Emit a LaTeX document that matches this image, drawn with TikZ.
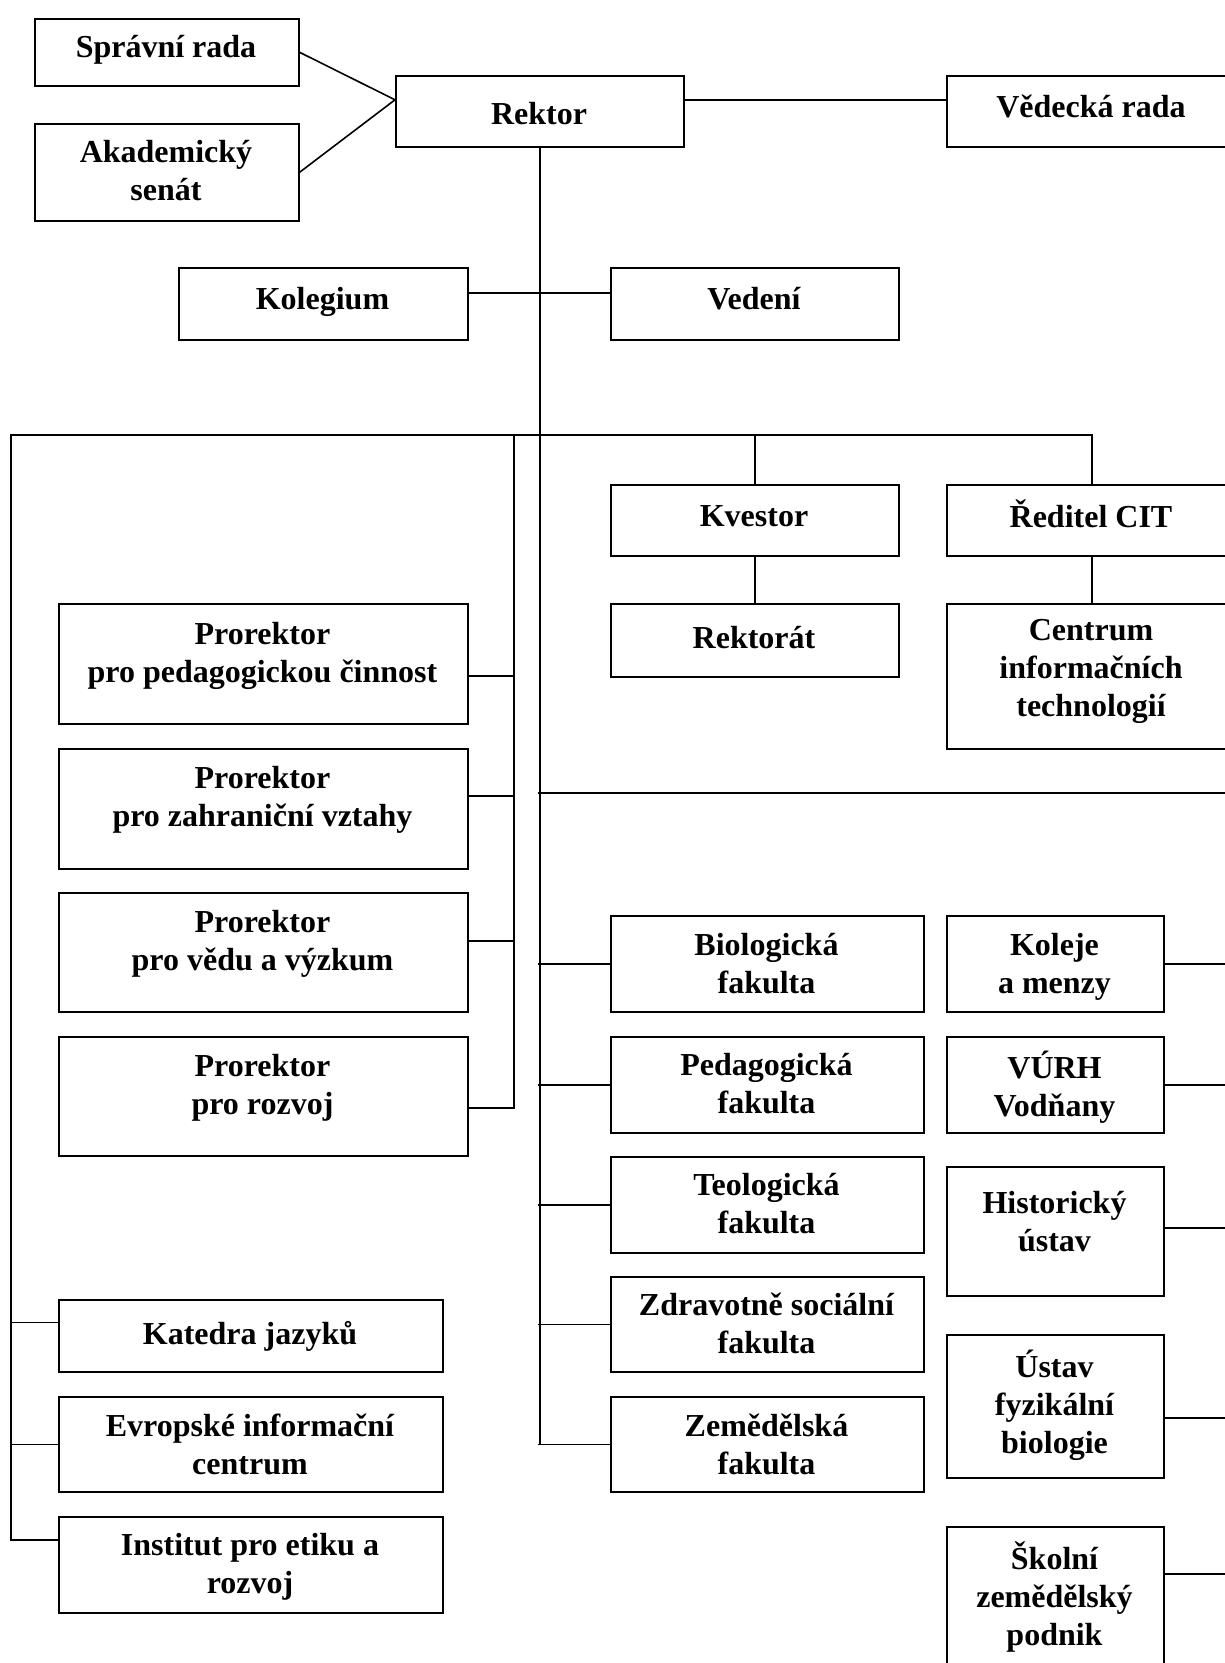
\documentclass[tikz,border=0pt]{standalone}
\usepackage{fontspec}
\setmainfont{Liberation Serif}
\tikzset{
  orgline/.style={line width=1.6pt, line cap=rect},
  orgbox/.style={draw, line width=1.6pt, rectangle, inner sep=0pt, anchor=north west},
  orglbl/.style={font=\bfseries\fontsize{32}{38}\selectfont, align=center, inner sep=0pt,
    yshift=-4pt, execute at begin node=\strut, execute at end node=\strut},
}
% name, x1, y1, x2, y2, text centre y, text
\newcommand\obox[7]{%
  \node[orgbox, minimum width={(#4-#2)*1pt}, minimum height={(#5-#3)*1pt}] (#1) at (#2,#3) {};
  \node[orglbl] (#1-t) at ({(#2+#4)/2},#6) {#7};
}
\begin{document}
\begin{tikzpicture}[x=1pt,y=-1pt]
\clip (0,0) rectangle (1225,1663);
\fill[white] (0,0) rectangle (1225,1663);

% boxes
\obox{spr}{34}{18}{298}{85}{46}{Správní rada}
\obox{aka}{34}{123}{298}{220}{172}{Akademický\\senát}
\obox{rek}{395}{75}{683}{146}{113}{Rektor}
\obox{ved}{946}{75}{1236}{146}{106}{Vědecká rada}
\obox{kol}{178}{267}{467}{339}{298}{Kolegium}
\obox{vedeni}{610}{267}{898}{339}{298}{Vedení}
\obox{kve}{610}{484}{898}{555}{515}{Kvestor}
\obox{red}{946}{484}{1236}{555}{515}{Ředitel CIT}
\obox{rkt}{610}{603}{898}{676}{637}{Rektorát}
\obox{cit}{946}{603}{1236}{748}{670}{Centrum\\informačních\\technologií}
\obox{p1}{58}{603}{467}{723}{654}{Prorektor\\pro pedagogickou činnost}
\obox{p2}{58}{748}{467}{868}{798}{Prorektor\\pro zahraniční vztahy}
\obox{p3}{58}{892}{467}{1011}{942}{Prorektor\\pro vědu a výzkum}
\obox{p4}{58}{1036}{467}{1155}{1086}{Prorektor\\pro rozvoj}
\obox{f1}{610}{915}{923}{1011}{965}{Biologická\\fakulta}
\obox{f2}{610}{1036}{923}{1132}{1085}{Pedagogická\\fakulta}
\obox{f3}{610}{1156}{923}{1252}{1205}{Teologická\\fakulta}
\obox{f4}{610}{1276}{923}{1371}{1325}{Zdravotně sociální\\fakulta}
\obox{f5}{610}{1396}{923}{1491}{1446}{Zemědělská\\fakulta}
\obox{r1}{946}{915}{1163}{1011}{965}{Koleje\\a menzy}
\obox{r2}{946}{1036}{1163}{1132}{1085}{VÚRH\\Vodňany}
\obox{r3}{946}{1166}{1163}{1295}{1223}{Historický\\ústav}
\obox{r4}{946}{1334}{1163}{1477}{1403}{Ústav\\fyzikální\\biologie}
\obox{r5}{946}{1526}{1163}{1700}{1595}{Školní\\zemědělský\\podnik}
\obox{k1}{58}{1299}{442}{1371}{1333}{Katedra jazyků}
\obox{k2}{58}{1396}{442}{1491}{1446}{Evropské informační\\centrum}
\obox{k3}{58}{1516}{442}{1612}{1565}{Institut pro etiku a\\rozvoj}

% bus coordinates
\coordinate (lb) at (11,435);      % left bus top
\coordinate (pb) at (514,435);     % prorektor bus top
\coordinate (tr) at (539,435);     % trunk at main bus
\coordinate (edge) at (1240,0);    % right edge

% top connectors
\draw[orgline] (spr.east) -- ([yshift=11.5pt]rek.west);
\draw[orgline] (aka.east) -- ([yshift=11.5pt]rek.west);
\draw[orgline] ([yshift=11.5pt]rek.east) -- ([yshift=11.5pt]ved.west);
\draw[orgline] ([yshift=11pt]kol.east) -- ([yshift=11pt]vedeni.west);

% main bus
\draw[orgline] (lb) -- (red.north |- lb);
\draw[orgline] (kve.north) -- (kve.north |- lb);
\draw[orgline] (red.north) -- (red.north |- lb);
\draw[orgline] (kve.south) -- (rkt.north);
\draw[orgline] (red.south) -- (cit.north);

% trunk
\draw[orgline] (rek.south) -- (rek.south |- f5.west);
\coordinate (h2) at (539,793);
\draw[orgline] (h2) -- (h2 -| edge);

% prorektor bus
\draw[orgline] (pb) -- (pb |- p4.east) -- ++(0,11.5);
\draw[orgline] ([yshift=-12pt]p1.east) coordinate (a1) -- (a1 -| pb);
\draw[orgline] ([yshift=13pt]p2.east) coordinate (a2) -- (a2 -| pb);
\draw[orgline] ([yshift=11.5pt]p3.east) coordinate (a3) -- (a3 -| pb);
\draw[orgline] ([yshift=-11.5pt]p4.east) coordinate (a4) -- (a4 -| pb);

% faculties
\foreach \n in {f1,f2,f3,f4,f5}{
  \draw[orgline] (\n.west) -- (\n.west -| tr);
}

% right column
\draw[orgline] (r1.east) -- (r1.east -| edge);
\draw[orgline] (r2.east) -- (r2.east -| edge);
\draw[orgline] ([yshift=3.5pt]r3.east) coordinate (b3) -- (b3 -| edge);
\draw[orgline] ([yshift=-11.5pt]r4.east) coordinate (b4) -- (b4 -| edge);
\draw[orgline] ([yshift=-48pt]r5.north east) coordinate (b5) -- (b5 -| edge);

% left bus and its boxes
\draw[orgline] ([yshift=-23.5pt]k1.north west) coordinate (c1) -- (c1 -| lb);
\draw[orgline] (k2.west) -- (k2.west -| lb);
\draw[orgline] ([yshift=-24pt]k3.north west) coordinate (c3) -- (c3 -| lb);
\draw[orgline] (lb) -- (c3 -| lb);
\end{tikzpicture}
\end{document}
